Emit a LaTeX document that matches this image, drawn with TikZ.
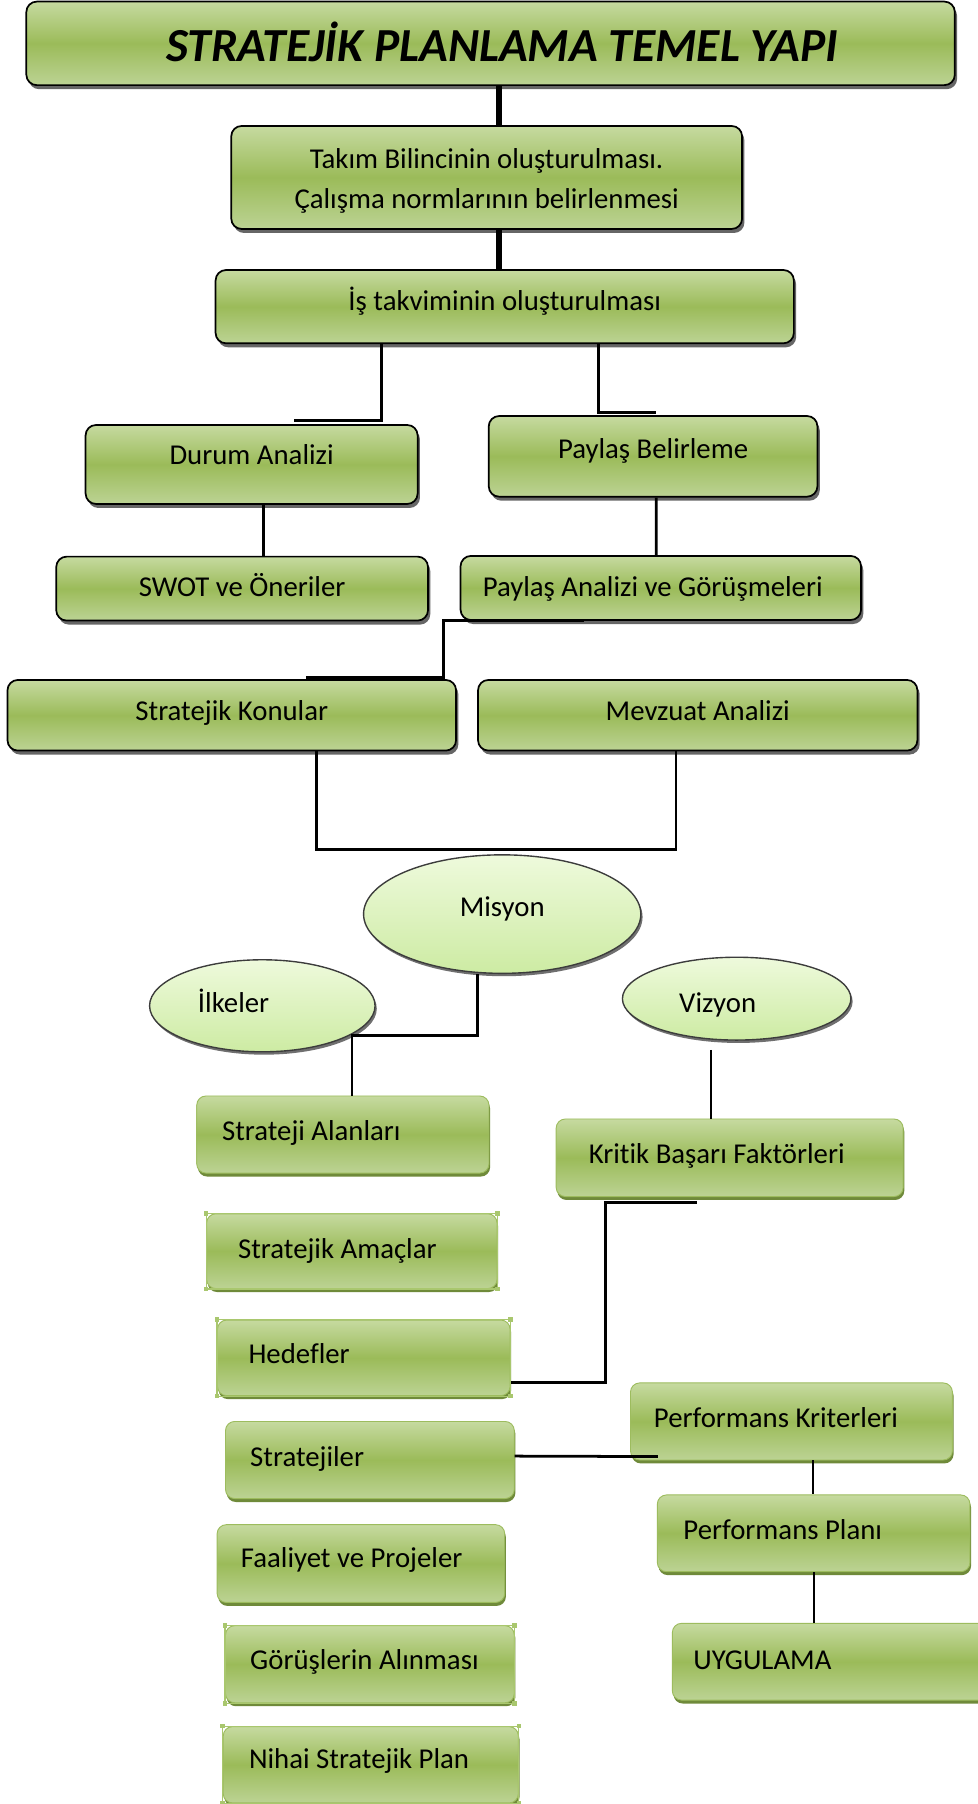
\documentclass[tikz,border=0pt]{standalone}
\usepackage{fontspec}
\setmainfont{Carlito}[Ligatures={NoCommon}]
\usetikzlibrary{shadows,shapes.geometric}
\definecolor{gLight}{HTML}{C6DAA0}
\definecolor{gMid}{HTML}{9BBB59}
\definecolor{gBot}{HTML}{BCD394}
\definecolor{gEdge}{HTML}{9DBC5E}
\definecolor{gShadow}{HTML}{6F8A3A}
\definecolor{selLine}{HTML}{A9C76E}
\definecolor{eTop}{HTML}{EEFADC}
\definecolor{eBot}{HTML}{CDEBA3}
\definecolor{eEdge}{HTML}{3C3C3C}
\newcommand\lefttext[2]{\makebox[#1][l]{#2}}
\begin{document}
\begin{tikzpicture}[x=1pt,y=-1pt,
  txt/.style={font=\fontsize{25}{30}\selectfont},
  topbox/.style={rectangle, rounded corners=9pt, draw=black, line width=1.5pt,
     top color=gLight, bottom color=gBot, middle color=gMid,
     drop shadow={shadow xshift=2pt, shadow yshift=-3.5pt, fill=black!70, opacity=0.85},
     inner sep=0pt, txt, text depth=0pt},
  lowbox/.style={rectangle, rounded corners=8pt, draw=gEdge, line width=0.8pt,
     top color=gLight, bottom color=gBot, middle color=gMid,
     drop shadow={shadow xshift=1pt, shadow yshift=-3pt, fill=gShadow, opacity=1},
     inner ysep=0pt, txt, text height=10pt, text depth=0pt},
  oval/.style={ellipse, draw=eEdge, line width=1.2pt, top color=eTop, bottom color=eBot,
     drop shadow={shadow xshift=1.5pt, shadow yshift=-2.5pt, fill=black!70, opacity=0.8},
     inner sep=0pt, txt, text depth=0pt},
  selbox/.style={draw=selLine, line width=1pt},
  heavy/.style={line width=5pt},
  link/.style={line width=2.4pt},
]
\fill[white] (0,0) rectangle (850,1568);
\useasboundingbox (0,0) rectangle (850,1568);

% ---- top section ----
\node[topbox, minimum width=807pt, minimum height=72.6pt, text height=32pt,
      font=\fontsize{41.2}{48}\selectfont\bfseries\itshape] (title) at (426.4,37.7)
      {\hspace*{20pt}STRATEJİK PLANLAMA TEMEL YAPI};
\node[topbox, minimum width=444pt, minimum height=89.5pt, text height=53.4pt,
      font=\fontsize{25}{34.7}\selectfont] (takim) at (423,154.25)
      {\begin{tabular}[b]{@{}c@{}}Takım Bilincinin oluşturulması.\\Çalışma normlarının belirlenmesi\end{tabular}};
\node[topbox, minimum width=502.6pt, minimum height=63.7pt, text height=6pt] (is) at (438.7,266.55)
      {İş takviminin oluşturulması};
\node[topbox, minimum width=288.6pt, minimum height=68.6pt, text height=0pt] (durum) at (218.7,403.7)
      {Durum Analizi};
\node[topbox, minimum width=285.7pt, minimum height=70.1pt, text height=3.4pt] (paylasB) at (567.65,396.65)
      {Paylaş Belirleme};
\node[topbox, minimum width=323.1pt, minimum height=55.6pt, text height=14pt] (swot) at (210.45,511.6)
      {SWOT ve Öneriler};
\node[topbox, minimum width=348.1pt, minimum height=55.7pt, text height=15pt] (paylasA) at (574.35,511.05)
      {\hspace*{-14pt}Paylaş Analizi ve Görüşmeleri};
\node[topbox, minimum width=389.9pt, minimum height=61.4pt, text height=9pt] (stratK) at (201.45,621.7)
      {Stratejik Konular};
\node[topbox, minimum width=381.9pt, minimum height=61.4pt, text height=9pt] (mevzuat) at (606.45,621.7)
      {Mevzuat Analizi};

% ---- ellipses ----
\node[oval, minimum width=241pt, minimum height=103pt, text height=4pt] (misyon) at (436.5,794.5) {Misyon};
\node[oval, minimum width=196pt, minimum height=80pt, text height=12pt] (ilkeler) at (228,874.2) {\hspace*{-50pt}İlkeler};
\node[oval, minimum width=198.6pt, minimum height=72pt, text height=24pt] (vizyon) at (640.3,868) {\hspace*{-33pt}Vizyon};

% ---- lower boxes ----
\node[lowbox, minimum width=254pt, minimum height=67pt, inner xsep=22pt] (strA) at (298,986.1)
      {\lefttext{210pt}{Strateji Alanları}};
\node[lowbox, minimum width=301.6pt, minimum height=67.4pt, inner xsep=28.4pt] (kritik) at (634.2,1006.3)
      {\lefttext{244.8pt}{Kritik Başarı Faktörleri}};
\node[lowbox, minimum width=252.4pt, minimum height=65pt, inner xsep=27.4pt, text height=13pt] (amac) at (305.8,1087.5)
      {\lefttext{197.6pt}{Stratejik Amaçlar}};
\node[lowbox, minimum width=254.3pt, minimum height=65.7pt, inner xsep=27pt] (hedef) at (316.2,1180.2)
      {\lefttext{200.3pt}{Hedefler}};
\node[lowbox, minimum width=251pt, minimum height=67pt, inner xsep=21.5pt, text height=11pt] (strjl) at (321.5,1269)
      {\lefttext{208pt}{Stratejiler}};
\node[lowbox, minimum width=250pt, minimum height=67.6pt, inner xsep=20.7pt, text height=7.5pt] (faal) at (313.7,1359)
      {\lefttext{208.6pt}{Faaliyet ve Projeler}};
\node[lowbox, minimum width=251pt, minimum height=67pt, inner xsep=21.5pt] (gorus) at (321.5,1446.5)
      {\lefttext{208pt}{Görüşlerin Alınması}};
\node[lowbox, minimum width=256.5pt, minimum height=66.3pt, inner xsep=22.4pt, text height=6pt] (nihai) at (322.3,1533.9)
      {\lefttext{211.7pt}{Nihai Stratejik Plan}};
\node[lowbox, minimum width=279.8pt, minimum height=67pt, inner xsep=20.4pt] (perfK) at (687.9,1235.5)
      {\lefttext{239pt}{Performans Kriterleri}};
\node[lowbox, minimum width=271.7pt, minimum height=66.7pt, inner xsep=22.7pt, text height=11.4pt] (perfP) at (707.2,1332.7)
      {\lefttext{226.3pt}{Performans Planı}};
\node[lowbox, minimum width=275.6pt, minimum height=66.7pt, inner xsep=18.2pt, text height=14pt] (uyg) at (722.2,1444.3)
      {\lefttext{239.2pt}{UYGULAMA}};

% selection outlines
\foreach \n in {amac,hedef,gorus,nihai}{
  \draw[selbox] (\n.south west) rectangle (\n.north east);
  \foreach \a in {north west,north east,south west,south east}
    \fill[selLine] ([shift={(-2,-2)}]\n.\a) rectangle ++(4,4);
}

% ---- connectors ----
\draw[heavy] ([xshift=7.1pt]title.south) -- ([xshift=10.5pt]takim.north);
\draw[heavy] ([xshift=10.5pt]takim.south) -- ([xshift=-5.2pt]is.north);
\draw[link] ([xshift=-107.4pt]is.south) |- ([xshift=36.6pt,yshift=2.9pt]durum.north);
\draw[link] ([xshift=81.7pt]is.south) |- ([xshift=2.65pt,yshift=2.4pt]paylasB.north);
\draw[link] ([xshift=10.5pt]durum.south) -- ([xshift=18.75pt]swot.north);
\draw[link] ([xshift=2.65pt]paylasB.south) -- ([xshift=-4.05pt]paylasA.north);
\draw[link] ([xshift=-66.65pt]paylasA.south) -| ([xshift=184.25pt,yshift=1.4pt]stratK.north)
      -- ([xshift=64.55pt,yshift=1.4pt]stratK.north);
\draw[link] ([xshift=73.45pt]stratK.south) -- ++(0,84.9) -| ([xshift=-18.85pt]mevzuat.south);
\draw[link] ([xshift=-21.5pt]misyon.south) -- ++(0,53.6) -| ([xshift=8pt]strA.north);
\draw[link] ([xshift=-22.3pt,yshift=-8pt]vizyon.south) -- ([xshift=-16.2pt]kritik.north);
\draw[link] ([xshift=-28.5pt,yshift=-4.5pt]kritik.south) -- ++(-79.7,0) |- ([yshift=-21.1pt]hedef.east);
\draw[link] ([yshift=3.4pt]strjl.east) -- ([xshift=24.2pt,yshift=3.4pt]perfK.south west);
\draw[link] ([xshift=18.7pt]perfK.south) -- ([xshift=-0.6pt]perfP.north);
\draw[link] ([xshift=0.3pt]perfP.south) -- ([xshift=-14.7pt]uyg.north);
\end{tikzpicture}
\end{document}
